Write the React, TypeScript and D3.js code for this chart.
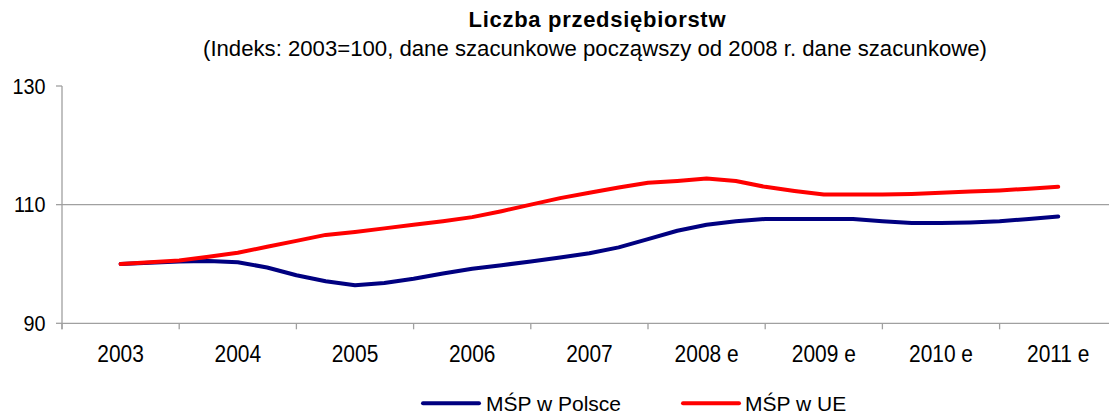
import React from "react";
import * as d3 from "d3";

const categories = ["2003", "2004", "2005", "2006", "2007", "2008 e", "2009 e", "2010 e", "2011 e"];
const yTicks = [90, 110, 130];
const gridValues = [110];

// quarterly readings, 2003 Q1 .. 2011 Q1
const polska = [
  100.0, 100.2, 100.4, 100.5, 100.3, 99.4, 98.1, 97.1, 96.4, 96.8, 97.5, 98.4, 99.2,
  99.8, 100.4, 101.1, 101.8, 102.8, 104.2, 105.6, 106.6, 107.2, 107.6, 107.6, 107.6,
  107.6, 107.2, 106.9, 106.9, 107.0, 107.2, 107.6, 108.0,
];
const ue = [
  100.0, 100.3, 100.6, 101.2, 101.9, 102.9, 103.9, 104.9, 105.4, 106.0, 106.6, 107.2, 107.9,
  108.9, 110.0, 111.1, 112.0, 112.9, 113.7, 114.0, 114.4, 114.0, 113.0, 112.3, 111.7,
  111.7, 111.7, 111.8, 112.0, 112.2, 112.4, 112.7, 113.0,
];
const seriesNames = ["MŚP w Polsce", "MŚP w UE"];
const seriesColors = ["#000080", "#ff0000"];

const W = 1109;
const H = 414;
const FONT = "'Liberation Sans', Arial, sans-serif";

function T(props: {
  x: number;
  y: number;
  sx?: number;
  size: number;
  anchor?: "start" | "middle" | "end";
  bold?: boolean;
  children: React.ReactNode;
}) {
  const { x, y, sx = 1, size, anchor = "start", bold, children } = props;
  return (
    <g transform={`translate(${x},${y}) scale(${sx},1)`}>
      <text x={0} y={0} textAnchor={anchor} fontSize={size} fontWeight={bold ? "bold" : "normal"} fill="#000">
        {children}
      </text>
    </g>
  );
}

export default function App() {
  const left = 62;
  const band = 117.2;
  const x = d3
    .scaleLinear()
    .domain([-0.5, categories.length - 0.5])
    .range([left, left + categories.length * band]);
  const y = d3.scaleLinear().domain([90, 130]).range([323.3, 86]);

  const line = d3
    .line<number>()
    .x((_, i) => x(i / 4))
    .y((d) => y(d))
    .curve(d3.curveLinear);

  const series = [polska, ue];
  const boundaries = d3.range(categories.length + 1).map((i) => i - 0.5);

  return (
    <svg
      width={W}
      height={H}
      style={{ position: "absolute", left: 0, top: 0, background: "#fff" }}
      fontFamily={FONT}
    >
      <rect width={W} height={H} fill="#fff" />
      <text x={597} y={27} textAnchor="middle" fontSize={22} fontWeight="bold" textLength={257} fill="#000">
        Liczba przedsiębiorstw
      </text>
      <text
        x={595}
        y={56}
        textAnchor="middle"
        fontSize={22}
        textLength={784}
        lengthAdjust="spacingAndGlyphs"
        fill="#000"
      >
        (Indeks: 2003=100, dane szacunkowe począwszy od 2008 r. dane szacunkowe)
      </text>

      {gridValues.map((v) => (
        <line key={v} x1={left} x2={W} y1={y(v)} y2={y(v)} stroke="#a0a0a0" strokeWidth={1.3} />
      ))}

      {/* y axis */}
      <line x1={left} x2={left} y1={y(130)} y2={y(90) + 6} stroke="#a0a0a0" strokeWidth={1.3} />
      {yTicks.map((v) => (
        <g key={v}>
          <line x1={left - 6} x2={left} y1={y(v)} y2={y(v)} stroke="#a0a0a0" strokeWidth={1.3} />
          <T x={45.5} y={y(v) + 7.5} size={22} sx={0.9} anchor="end">
            {v}
          </T>
        </g>
      ))}

      {/* x axis */}
      <line x1={left} x2={W} y1={y(90)} y2={y(90)} stroke="#a0a0a0" strokeWidth={1.3} />
      {boundaries.map((b) => (
        <line key={b} x1={x(b)} x2={x(b)} y1={y(90)} y2={y(90) + 6} stroke="#a0a0a0" strokeWidth={1.3} />
      ))}
      {categories.map((c, i) => (
        <T key={c} x={x(i)} y={361.7} size={23} sx={0.91} anchor="middle">
          {c}
        </T>
      ))}

      {series.map((s, i) => (
        <path
          key={i}
          d={line(s) || ""}
          fill="none"
          stroke={seriesColors[i]}
          strokeWidth={4}
          strokeLinejoin="round"
          strokeLinecap="round"
        />
      ))}

      {/* legend */}
      {[
        { lx: 423, tx: 486 },
        { lx: 683, tx: 745 },
      ].map((p, i) => (
        <g key={i}>
          <line x1={p.lx} x2={p.lx + 56} y1={403.3} y2={403.3} stroke={seriesColors[i]} strokeWidth={4} strokeLinecap="round" />
          <T x={p.tx} y={410.7} size={21}>
            {seriesNames[i]}
          </T>
        </g>
      ))}
    </svg>
  );
}
